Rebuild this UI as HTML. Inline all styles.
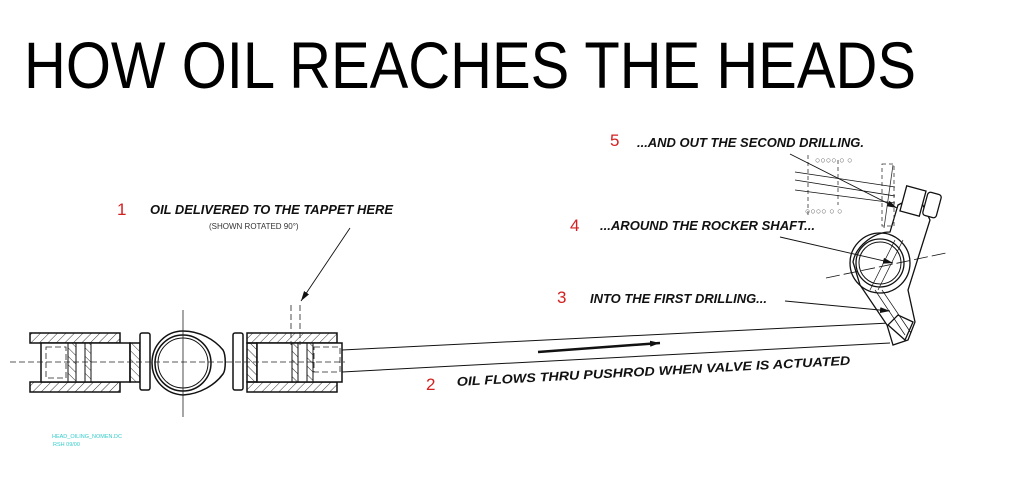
<!DOCTYPE html>
<html><head><meta charset="utf-8"><style>
html,body{margin:0;padding:0;background:#fff;}
svg{display:block;}
.t{font-family:"Liberation Sans",Arial,sans-serif;}
.b{font-family:"Liberation Sans",Arial,sans-serif;font-weight:bold;font-style:italic;font-size:12.5px;fill:#111;}
.r{font-family:"Liberation Sans",Arial,sans-serif;font-size:17px;fill:#d42020;}
</style></head><body>
<svg width="1024" height="495" viewBox="0 0 1024 495" xmlns="http://www.w3.org/2000/svg">
<defs>
<pattern id="h" width="6" height="6" patternUnits="userSpaceOnUse" patternTransform="rotate(45)">
<line x1="0" y1="0" x2="0" y2="6" stroke="#333" stroke-width="1"/></pattern>
<pattern id="h2" width="6" height="6" patternUnits="userSpaceOnUse" patternTransform="rotate(-45)">
<line x1="0" y1="0" x2="0" y2="6" stroke="#333" stroke-width="1"/></pattern>
<marker id="a" markerWidth="10" markerHeight="6" refX="10" refY="3" orient="auto" markerUnits="userSpaceOnUse"><path d="M0,0 L10,3 L0,6z" fill="#111"/></marker>
</defs>
<text x="24" y="88" class="t" font-size="66" fill="#000" textLength="892" lengthAdjust="spacingAndGlyphs">HOW OIL REACHES THE HEADS</text>

<g stroke="#111" fill="none" stroke-width="1.5">
<rect x="30" y="333" width="90" height="10" fill="url(#h)"/>
<rect x="30" y="382" width="90" height="10" fill="url(#h)"/>
<rect x="41" y="343" width="89" height="39" fill="#fff"/>
<rect x="130" y="343" width="10" height="39" fill="url(#h2)"/>
<rect x="68" y="343" width="8" height="39" fill="url(#h2)" stroke-width="1"/>
<rect x="85" y="343" width="6" height="39" fill="url(#h2)" stroke-width="1"/>
<rect x="140" y="333" width="10" height="57" rx="2" fill="#fff"/>
<path d="M183,331 C200,331 215,340 223,350 C226,355 226,370 223,374 C215,385 200,394 183,395 C166,394 152,381 152,363 C152,345 166,331 183,331z" fill="#fff"/>
<circle cx="183" cy="363" r="28"/>
<circle cx="183" cy="363" r="25" stroke-width="1"/>
<rect x="233" y="333" width="10" height="57" rx="2" fill="#fff"/>
<rect x="247" y="333" width="90" height="10" fill="url(#h)"/>
<rect x="247" y="382" width="90" height="10" fill="url(#h)"/>
<rect x="247" y="343" width="10" height="39" fill="url(#h2)"/>
<rect x="257" y="343" width="85" height="39" fill="#fff"/>
<rect x="292" y="343" width="6" height="39" fill="url(#h2)" stroke-width="1"/>
<rect x="307" y="343" width="6" height="39" fill="url(#h2)" stroke-width="1"/>
<line x1="342" y1="350" x2="890" y2="323" stroke-width="1"/>
<line x1="342" y1="372" x2="890" y2="343" stroke-width="1"/>
</g>
<g stroke="#222" stroke-width="0.8" fill="none" stroke-dasharray="6,3">
<line x1="10" y1="362" x2="345" y2="362"/>
<line x1="183" y1="310" x2="183" y2="417" stroke-dasharray="none"/>
<line x1="291" y1="305" x2="291" y2="345"/>
<line x1="300" y1="305" x2="300" y2="345"/>
<rect x="46" y="347" width="20" height="31"/>
<rect x="314" y="347" width="26" height="25"/>
</g>
<line x1="538" y1="352" x2="660" y2="343" stroke="#111" stroke-width="2.5" marker-end="url(#a)"/>

<g stroke="#111" fill="none" stroke-width="1.3">
<path d="M898,205 L918,195 L930,220 L908,290 L915,322 L908,340 L893,345 L887,325 L860,285 L853,262 C856,245 875,232 890,232 z" fill="#fff"/>
<circle cx="880" cy="263" r="30"/>
<circle cx="880" cy="263" r="24"/>
<circle cx="880" cy="263" r="21" stroke-width="1"/>
<line x1="826" y1="278" x2="946" y2="253" stroke-width="0.8" stroke-dasharray="14,4"/>
<rect x="903" y="188" width="20" height="26" transform="rotate(15 913 201)" fill="#fff"/>
<rect x="925" y="193" width="14" height="24" rx="3" transform="rotate(15 932 205)" fill="#fff"/>
<path d="M888,325 L898,315 L913,322 L905,340 Z" fill="#fff"/>
<line x1="895" y1="240" x2="870" y2="290" stroke-width="0.7"/>
<line x1="903" y1="240" x2="878" y2="290" stroke-width="0.7"/>
<line x1="875" y1="290" x2="905" y2="335" stroke-width="0.7"/>
<line x1="882" y1="290" x2="911" y2="333" stroke-width="0.7"/>
</g>
<g stroke="#333" stroke-width="0.8" fill="none" stroke-dasharray="4,3">
<line x1="808" y1="155" x2="808" y2="215"/>
<line x1="838" y1="160" x2="838" y2="205"/>
<rect x="882" y="164" width="12" height="62"/>
<line x1="893" y1="165" x2="884" y2="228" stroke-dasharray="none"/>
<text x="815" y="163" class="t" font-size="9" fill="#555" stroke="none">○○○○ ○ ○</text>
<text x="805" y="214" class="t" font-size="9" fill="#555" stroke="none">○○○○ ○ ○</text>
</g>
<g stroke="#111" stroke-width="0.8">
<line x1="795" y1="172" x2="895" y2="187"/>
<line x1="795" y1="180" x2="895" y2="196"/>
<line x1="795" y1="190" x2="895" y2="203"/>
</g>

<g stroke="#111" stroke-width="0.9">
<line x1="350" y1="228" x2="301" y2="301" marker-end="url(#a)"/>
<line x1="785" y1="301" x2="890" y2="311" marker-end="url(#a)"/>
<line x1="780" y1="237" x2="893" y2="263" marker-end="url(#a)"/>
<line x1="790" y1="154" x2="897" y2="208" marker-end="url(#a)"/>
</g>

<text x="117" y="215" class="r">1</text>
<text x="150" y="214" class="b" textLength="243" lengthAdjust="spacingAndGlyphs">OIL DELIVERED TO THE TAPPET HERE</text>
<text x="209" y="229" class="t" font-size="8" fill="#333">(SHOWN ROTATED 90°)</text>
<text x="426" y="390" class="r">2</text>
<text x="457" y="386" class="b" font-size="14" transform="rotate(-3.1 457 386)" textLength="394" lengthAdjust="spacingAndGlyphs">OIL FLOWS THRU PUSHROD WHEN VALVE IS ACTUATED</text>
<text x="557" y="303" class="r">3</text>
<text x="590" y="303" class="b" font-size="11.5" textLength="177" lengthAdjust="spacingAndGlyphs">INTO THE FIRST DRILLING...</text>
<text x="570" y="231" class="r">4</text>
<text x="600" y="230" class="b" font-size="11.5" textLength="215" lengthAdjust="spacingAndGlyphs">...AROUND THE ROCKER SHAFT...</text>
<text x="610" y="146" class="r">5</text>
<text x="637" y="147" class="b" font-size="11.5" textLength="227" lengthAdjust="spacingAndGlyphs">...AND OUT THE SECOND DRILLING.</text>

<text x="52" y="438" class="t" font-size="5.5" fill="#3cc">HEAD_OILING_NOMEN.DC</text>
<text x="53" y="446" class="t" font-size="5.5" fill="#3cc">RSH 09/00</text>
</svg>
</body></html>
